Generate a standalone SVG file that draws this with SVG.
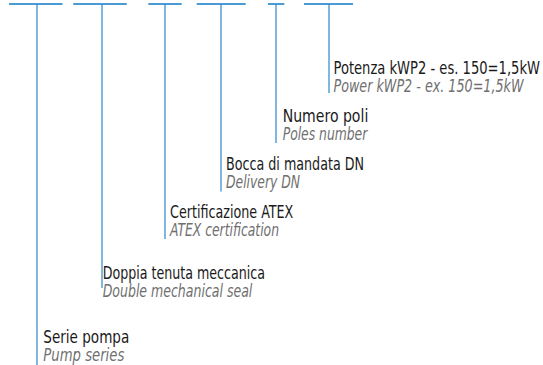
<svg xmlns="http://www.w3.org/2000/svg" width="543" height="365" viewBox="0 0 543 365">
<style>
.h{stroke:#4a9ad6;stroke-width:2;fill:none}
.v{stroke:#3d8fd1;stroke-width:1.3;fill:none}
.t{font-family:"Liberation Sans Narrow","DejaVu Sans Condensed","Liberation Sans",sans-serif;font-size:17px;fill:#1a1a1a}
.e{font-family:"Liberation Sans Narrow","DejaVu Sans Condensed","Liberation Sans",sans-serif;font-size:17px;font-style:italic;fill:#6f6f6f}
</style>
<rect width="543" height="365" fill="#ffffff"/>
<g id="connectors">
<line class="h" x1="9" y1="4" x2="62.5" y2="4"/>
<line class="h" x1="73.3" y1="4" x2="126.7" y2="4"/>
<line class="h" x1="148.3" y1="4" x2="181.7" y2="4"/>
<line class="h" x1="196.7" y1="4" x2="245.7" y2="4"/>
<line class="h" x1="268" y1="4" x2="284.3" y2="4"/>
<line class="h" x1="304" y1="4" x2="353" y2="4"/>
<line class="v" x1="37" y1="4" x2="37" y2="365"/>
<line class="v" x1="102" y1="4" x2="102" y2="288"/>
<line class="v" x1="165" y1="4" x2="165" y2="239"/>
<line class="v" x1="221" y1="4" x2="221" y2="191.5"/>
<line class="v" x1="276" y1="4" x2="276" y2="143"/>
<line class="v" x1="329" y1="4" x2="329" y2="93"/>
</g>
<g id="node-potenza">
<text class="t" x="333.5" y="74" textLength="206.5" lengthAdjust="spacingAndGlyphs">Potenza kWP2 - es. 150=1,5kW</text>
<text class="e" x="333.5" y="92" textLength="190" lengthAdjust="spacingAndGlyphs">Power kWP2 - ex. 150=1,5kW</text>
</g>
<g id="node-poli">
<text class="t" x="282.7" y="122" textLength="85.6" lengthAdjust="spacingAndGlyphs">Numero poli</text>
<text class="e" x="282.7" y="140" textLength="84.6" lengthAdjust="spacingAndGlyphs">Poles number</text>
</g>
<g id="node-bocca">
<text class="t" x="226" y="170" textLength="138" lengthAdjust="spacingAndGlyphs">Bocca di mandata DN</text>
<text class="e" x="226" y="188" textLength="74" lengthAdjust="spacingAndGlyphs">Delivery DN</text>
</g>
<g id="node-atex">
<text class="t" x="170" y="218" textLength="123.3" lengthAdjust="spacingAndGlyphs">Certificazione ATEX</text>
<text class="e" x="170" y="236" textLength="109" lengthAdjust="spacingAndGlyphs">ATEX certification</text>
</g>
<g id="node-doppia">
<text class="t" x="102.7" y="278.5" textLength="162.3" lengthAdjust="spacingAndGlyphs">Doppia tenuta meccanica</text>
<text class="e" x="102.7" y="296.5" textLength="149.6" lengthAdjust="spacingAndGlyphs">Double mechanical seal</text>
</g>
<g id="node-serie">
<text class="t" x="43.3" y="342.5" textLength="86" lengthAdjust="spacingAndGlyphs">Serie pompa</text>
<text class="e" x="43.3" y="360.5" textLength="81" lengthAdjust="spacingAndGlyphs">Pump series</text>
</g>
</svg>
